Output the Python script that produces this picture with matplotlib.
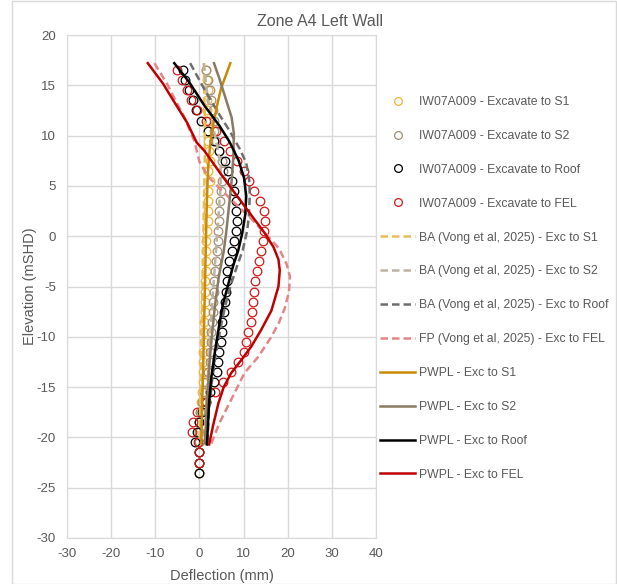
import numpy as np
import matplotlib.pyplot as plt
from matplotlib.patches import Rectangle

plt.rcParams['font.family'] = ['Liberation Sans', 'DejaVu Sans']
plt.rcParams['axes.unicode_minus'] = False

# elevations of inclinometer readings (mSHD)
elev = [16.5, 15.5, 14.5, 13.5, 12.5, 11.5, 10.5, 9.5, 8.5, 7.5, 6.5, 5.5, 4.5, 3.5,
        2.5, 1.5, 0.5, -0.5, -1.5, -2.5, -3.5, -4.5, -5.5, -6.5, -7.5, -8.5, -9.5,
        -10.5, -11.5, -12.5, -13.5, -14.5, -15.5, -16.5, -17.5, -18.5, -19.5, -20.5,
        -21.5, -22.5, -23.5]

# measured deflections (mm)
iw_s1 = [1.5, 1.7, 1.9, 1.7, 1.7, 2.1, 2.0, 2.0, 2.1, 2.3, 1.9, 2.3, 2.0, 1.9,
         2.0, 1.9, 1.7, 1.5, 1.5, 1.4, 1.4, 1.3, 1.3, 1.2, 1.2, 1.1, 1.0,
         1.0, 0.9, 0.9, 0.8, 0.7, 0.5, 0.3, 0.1, 0.0, 0.0, 0.0,
         0.0, 0.0, 0.0]
iw_s2 = [1.6, 1.9, 2.3, 2.7, 3.0, 3.2, 3.4, 3.8, 4.5, 5.2, 5.3, 5.0, 4.9, 4.7,
         4.5, 4.4, 4.2, 4.1, 3.9, 3.8, 3.6, 3.4, 3.2, 3.1, 3.0, 2.9, 2.7,
         2.6, 2.4, 2.3, 2.0, 1.5, 1.1, 0.6, 0.2, 0.0, -0.1, -0.1,
         -0.1, -0.1, -0.1]
iw_roof = [-3.8, -3.2, -2.3, -1.4, -0.8, 0.3, 1.9, 3.2, 4.5, 5.7, 6.4, 7.4, 7.8, 8.2,
           8.3, 8.4, 8.3, 7.9, 7.3, 6.8, 6.3, 6.2, 6.0, 5.8, 5.5, 5.2, 5.0,
           4.8, 4.5, 4.3, 4.0, 3.4, 2.3, 1.6, 0.6, -0.1, -0.5, -0.9,
           -0.15, -0.15, -0.15]
iw_fel = [-5.1, -3.9, -2.8, -1.8, -0.5, 1.4, 3.7, 5.5, 7.0, 8.5, 10.0, 11.2, 12.4, 13.8,
          14.6, 14.8, 14.6, 14.4, 14.0, 13.4, 13.0, 12.7, 12.4, 12.2, 11.9, 11.6, 11.1,
          10.6, 10.1, 8.8, 7.2, 5.3, 3.5, 1.6, -0.5, -1.5, -1.7, -0.3,
          -0.15, -0.15]

# Vong et al (2025) predictions
ba_s1_x = [1.0, 1.2, 1.2, 1.0, 0.8, 0.6, 0.4, 0.2, 0.0]
ba_s1_y = [17.2, 12.0, 7.0, 3.0, -2.0, -7.0, -12.0, -16.0, -20.6]
ba_s2_x = [1.0, 1.8, 2.8, 4.0, 4.8, 4.8, 4.4, 4.0, 3.5, 3.0, 2.6, 2.2, 1.8, 1.4, 1.1]
ba_s2_y = [17.2, 14.0, 11.5, 9.0, 7.0, 5.0, 2.5, 0.0, -3.0, -6.0, -9.0, -12.0, -15.0, -18.0, -20.6]
ba_roof_x = [-2.1, 1.5, 4.5, 6.8, 9.1, 10.6, 11.3, 11.4, 11.2, 10.8, 9.8, 8.5, 7.0, 5.8,
             4.6, 3.6, 2.8, 2.2, 1.8]
ba_roof_y = [17.2, 14.3, 12.1, 10.5, 8.7, 7.3, 5.5, 4.0, 2.0, 0.5, -1.4, -3.0, -5.0, -7.0,
             -9.5, -12.0, -14.5, -17.0, -20.6]
fp_fel_x = [-10.2, -7.4, -5.2, -3.6, -1.1, 0.0, 1.8, 4.5, 8.0, 11.8, 15.5, 18.0, 19.7, 20.5,
            20.3, 19.3, 18.0, 16.3, 13.3, 10.2, 6.8, 4.5, 2.7]
fp_fel_y = [17.2, 15.2, 13.3, 12.0, 9.4, 7.4, 6.0, 4.8, 3.3, 1.7, 0.0, -1.2, -2.7, -4.0,
            -5.5, -7.2, -8.6, -10.0, -12.0, -13.6, -16.6, -18.6, -20.6]

# PWPL predictions
pw_s1_x = [7.0, 6.0, 4.9, 4.0, 3.3, 2.7, 2.3, 2.0, 1.8, 1.6, 1.4, 1.2, 1.0, 0.8, 0.6, 0.4]
pw_s1_y = [17.2, 16.0, 14.7, 13.0, 11.5, 10.0, 8.5, 7.0, 5.0, 2.0, -2.0, -6.0, -10.0, -14.0, -17.0, -20.6]
pw_s2_x = [3.3, 4.5, 6.0, 7.3, 7.8, 7.7, 7.3, 6.7, 6.1, 5.5, 4.4, 3.5, 2.8, 2.2, 1.8, 1.5, 1.2]
pw_s2_y = [17.2, 15.7, 13.6, 11.8, 10.2, 8.0, 5.5, 3.0, 0.5, -1.5, -4.0, -7.0, -10.0, -13.0, -16.0, -18.5, -20.6]
pw_roof_x = [-5.7, -2.3, 1.1, 4.5, 6.8, 8.9, 10.1, 10.6, 10.4, 9.7, 8.8, 7.6, 6.4, 5.3,
             4.3, 3.4, 2.7, 2.2, 1.7]
pw_roof_y = [17.2, 15.3, 13.0, 11.0, 9.4, 7.5, 5.8, 4.0, 2.2, 0.3, -1.4, -3.0, -5.0, -6.8,
             -9.3, -11.8, -14.0, -16.5, -20.7]
pw_fel_x = [-11.7, -8.3, -5.5, -2.8, -0.6, 1.1, 4.5, 8.0, 11.4, 14.8, 16.8, 17.9, 18.2, 17.9,
            16.3, 14.0, 11.7, 9.5, 7.2, 5.5, 4.3, 3.1, 2.2]
pw_fel_y = [17.2, 15.2, 13.2, 11.3, 9.3, 8.5, 6.4, 4.3, 2.3, 0.3, -1.1, -2.3, -3.4, -5.0,
            -7.4, -9.3, -11.0, -12.3, -13.6, -15.0, -16.6, -18.8, -20.7]

grey = '#595959'
fig = plt.figure(figsize=(6.17, 5.84), dpi=100)
ax = fig.add_axes([67/617, 1-538/584, 309/617, 503/584])

mk = dict(ls='none', marker='o', mfc='none', ms=6.2, mew=0.9)
ax.plot(iw_s1, elev, mec='#F5B335', label='IW07A009 - Excavate to S1', **mk)
ax.plot(iw_s2, elev, mec='#A08F78', label='IW07A009 - Excavate to S2', **mk)
ax.plot(iw_roof, elev, mec='#000000', label='IW07A009 - Excavate to Roof', **mk)
ax.plot(iw_fel, elev[:len(iw_fel)], mec='#D01818', label='IW07A009 - Excavate to FEL', **mk)

ds = dict(ls=(0, (3, 1.6)), lw=1.8)
ax.plot(ba_s1_x, ba_s1_y, color='#E9BC5A', label='BA (Vong et al, 2025) - Exc to S1', **ds)
ax.plot(ba_s2_x, ba_s2_y, color='#BDB3A3', label='BA (Vong et al, 2025) - Exc to S2', **ds)
ax.plot(ba_roof_x, ba_roof_y, color='#6E6E6E', label='BA (Vong et al, 2025) - Exc to Roof', **ds)
ax.plot(fp_fel_x, fp_fel_y, color='#E58585', label='FP (Vong et al, 2025) - Exc to FEL', **ds)

ax.plot(pw_s1_x, pw_s1_y, color='#C98A06', lw=1.8, label='PWPL - Exc to S1')
ax.plot(pw_s2_x, pw_s2_y, color='#8A7A63', lw=1.8, label='PWPL - Exc to S2')
ax.plot(pw_roof_x, pw_roof_y, color='#000000', lw=1.8, label='PWPL - Exc to Roof')
ax.plot(pw_fel_x, pw_fel_y, color='#C00000', lw=1.8, label='PWPL - Exc to FEL')

ax.set_xlim(-30, 40)
ax.set_ylim(-30, 20)
ax.set_xticks(np.arange(-30, 41, 10))
ax.set_yticks(np.arange(-30, 21, 5))
ax.grid(True, color='#D9D9D9', lw=1)
ax.set_axisbelow(True)
for s in ax.spines.values():
    s.set_color('#D9D9D9')
ax.tick_params(length=0, labelsize=9.5, labelcolor=grey)
ax.tick_params(axis='y', pad=8)
ax.tick_params(axis='x', pad=7)
ax.set_xlabel('Deflection (mm)', fontsize=10.5, color=grey, labelpad=7)
ax.set_ylabel('Elevation (mSHD)', fontsize=10.5, color=grey, labelpad=0)
fig.text(320/617, 1-22/584, 'Zone A4 Left Wall', fontsize=11.5, color=grey,
         ha='center', va='center')

ax.legend(loc='upper left', bbox_to_anchor=(380/617, 1-96/584), bbox_transform=fig.transFigure,
          frameon=False, borderaxespad=0, borderpad=0, fontsize=8.8, labelcolor=grey,
          handlelength=2.9, handletextpad=0.3, labelspacing=1.79, markerscale=0.9)

fig.patches.append(Rectangle((12/617, 0.5/584), 604/617, 583/584, transform=fig.transFigure,
                             fill=False, edgecolor='#D9D9D9', lw=1))

fig.savefig('out.png', dpi=100)
